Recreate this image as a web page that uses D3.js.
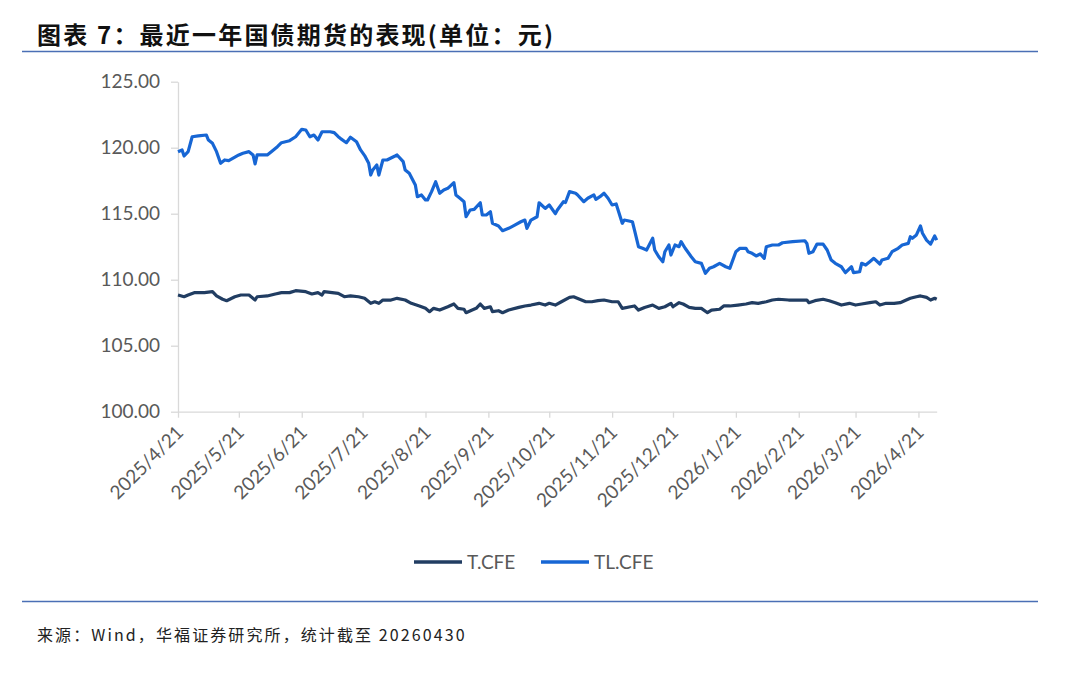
<!DOCTYPE html>
<html>
<head>
<meta charset="UTF-8">
<script src="https://d3js.org/d3.v7.min.js"></script>
<style>
  body { margin: 0; background: #fff; }
  svg { display: block; }
</style>
</head>
<body>
<svg></svg>
<script>
let width = 1080, height = 673;

const titleText = "图表 7：最近一年国债期货的表现(单位：元)";
const sourceText = "来源：Wind，华福证券研究所，统计截至 20260430";
const seriesNames = ["T.CFE", "TL.CFE"];
const yTicks = [100, 105, 110, 115, 120, 125];
const xTicks = ["2025-04-21", "2025-05-21", "2025-06-21", "2025-07-21", "2025-08-21", "2025-09-21",
  "2025-10-21", "2025-11-21", "2025-12-21", "2026-01-21", "2026-02-21", "2026-03-21", "2026-04-21"];

// TL.CFE
const tlDates = ["2025-04-21","2025-04-23","2025-04-24","2025-04-26","2025-04-28","2025-05-01","2025-05-05","2025-05-06",
  "2025-05-08","2025-05-10","2025-05-12","2025-05-14","2025-05-16","2025-05-21","2025-05-23","2025-05-26","2025-05-28",
  "2025-05-29","2025-05-30","2025-06-02","2025-06-04","2025-06-06","2025-06-09","2025-06-11","2025-06-15","2025-06-18",
  "2025-06-21","2025-06-23","2025-06-25","2025-06-27","2025-06-29","2025-07-01","2025-07-05","2025-07-07","2025-07-09",
  "2025-07-10","2025-07-13","2025-07-15","2025-07-18","2025-07-20","2025-07-22","2025-07-24","2025-07-25","2025-07-26",
  "2025-07-28","2025-07-29","2025-07-31","2025-08-02","2025-08-06","2025-08-07","2025-08-10","2025-08-11","2025-08-13",
  "2025-08-16","2025-08-17","2025-08-19","2025-08-21","2025-08-22","2025-08-24","2025-08-26","2025-08-28","2025-08-30",
  "2025-09-01","2025-09-04","2025-09-05","2025-09-07","2025-09-09","2025-09-10","2025-09-12","2025-09-14","2025-09-17",
  "2025-09-18","2025-09-20","2025-09-22","2025-09-23","2025-09-26","2025-09-28","2025-10-01","2025-10-04","2025-10-07",
  "2025-10-09","2025-10-10","2025-10-12","2025-10-15","2025-10-16","2025-10-19","2025-10-21","2025-10-24","2025-10-25",
  "2025-10-28","2025-10-29","2025-10-31","2025-11-03","2025-11-04","2025-11-07","2025-11-09","2025-11-12","2025-11-13",
  "2025-11-15","2025-11-17","2025-11-19","2025-11-21","2025-11-23","2025-11-26","2025-11-27","2025-12-01","2025-12-02",
  "2025-12-04","2025-12-06","2025-12-08","2025-12-11","2025-12-12","2025-12-14","2025-12-16","2025-12-17","2025-12-19",
  "2025-12-20","2025-12-22","2025-12-24","2025-12-25","2025-12-27","2025-12-30","2026-01-01","2026-01-04","2026-01-06",
  "2026-01-08","2026-01-10","2026-01-13","2026-01-16","2026-01-18","2026-01-21","2026-01-23","2026-01-26","2026-01-27",
  "2026-01-29","2026-01-31","2026-02-02","2026-02-04","2026-02-05","2026-02-08","2026-02-11","2026-02-13","2026-02-18",
  "2026-02-24","2026-02-25","2026-02-26","2026-02-28","2026-03-02","2026-03-05","2026-03-07","2026-03-09","2026-03-11",
  "2026-03-14","2026-03-16","2026-03-19","2026-03-20","2026-03-23","2026-03-24","2026-03-26","2026-03-28","2026-03-30",
  "2026-04-02","2026-04-03","2026-04-06","2026-04-08","2026-04-11","2026-04-13","2026-04-16","2026-04-17","2026-04-18",
  "2026-04-20","2026-04-22","2026-04-23","2026-04-25","2026-04-27","2026-04-29","2026-04-30"];
const tlValues = [119.70,119.83,119.37,119.70,120.83,120.89,120.96,120.58,
  120.33,119.70,118.82,119.07,119.02,119.45,119.58,119.70,119.45,
  118.77,119.45,119.45,119.45,119.70,120.08,120.38,120.53,120.83,
  121.39,121.34,120.83,120.96,120.58,121.21,121.21,121.14,120.83,
  120.71,120.38,120.79,120.45,119.83,119.40,118.82,117.93,118.31,
  118.69,117.93,119.07,119.07,119.37,119.45,118.94,118.31,118.06,
  117.17,116.29,116.42,116.04,116.04,116.67,117.42,116.55,116.80,
  116.92,117.35,116.42,116.17,115.91,114.77,115.28,115.33,115.83,
  114.90,114.90,115.15,114.27,114.07,113.71,113.89,114.14,114.39,
  114.52,113.89,114.52,114.77,115.83,115.40,115.66,115.00,115.28,
  115.91,115.85,116.67,116.55,116.42,115.91,116.17,116.42,116.09,
  116.29,116.55,116.17,115.66,115.74,114.27,114.52,114.39,113.77,
  112.50,112.38,112.25,113.14,112.25,111.74,111.36,112.12,112.63,
  111.87,112.63,112.50,112.88,112.38,111.74,111.36,111.24,110.48,
  110.86,110.98,111.24,110.98,110.86,112.12,112.38,112.38,112.12,
  112.00,111.80,111.95,111.62,112.50,112.63,112.63,112.80,112.88,
  112.95,112.75,112.00,112.12,112.70,112.70,112.25,111.49,111.24,
  110.98,110.53,110.98,110.53,110.60,111.24,111.11,111.36,111.62,
  111.19,111.49,111.62,112.12,112.38,112.63,112.75,113.26,113.14,
  113.39,114.07,113.52,113.00,112.70,113.31,113.00];

// T.CFE
const tDates = ["2025-04-21","2025-04-24","2025-04-26","2025-04-29","2025-05-04","2025-05-08","2025-05-10","2025-05-13",
  "2025-05-15","2025-05-19","2025-05-22","2025-05-26","2025-05-29","2025-05-30","2025-06-04","2025-06-08","2025-06-11",
  "2025-06-15","2025-06-18","2025-06-23","2025-06-26","2025-06-29","2025-07-01","2025-07-02","2025-07-06","2025-07-09",
  "2025-07-12","2025-07-15","2025-07-19","2025-07-22","2025-07-25","2025-07-27","2025-07-29","2025-07-31","2025-08-04",
  "2025-08-07","2025-08-11","2025-08-14","2025-08-18","2025-08-21","2025-08-23","2025-08-25","2025-08-28","2025-09-01",
  "2025-09-04","2025-09-06","2025-09-09","2025-09-10","2025-09-13","2025-09-15","2025-09-17","2025-09-19","2025-09-22",
  "2025-09-23","2025-09-26","2025-09-28","2025-10-01","2025-10-06","2025-10-09","2025-10-12","2025-10-16","2025-10-19",
  "2025-10-21","2025-10-24","2025-10-27","2025-10-31","2025-11-02","2025-11-05","2025-11-08","2025-11-11","2025-11-14",
  "2025-11-17","2025-11-21","2025-11-24","2025-11-26","2025-11-30","2025-12-02","2025-12-04","2025-12-07","2025-12-11",
  "2025-12-14","2025-12-17","2025-12-20","2025-12-21","2025-12-24","2025-12-26","2025-12-29","2026-01-01","2026-01-04",
  "2026-01-07","2026-01-09","2026-01-13","2026-01-15","2026-01-18","2026-01-22","2026-01-26","2026-01-29","2026-02-01",
  "2026-02-05","2026-02-08","2026-02-11","2026-02-16","2026-02-21","2026-02-25","2026-02-26","2026-03-01","2026-03-05",
  "2026-03-08","2026-03-11","2026-03-14","2026-03-18","2026-03-21","2026-03-24","2026-03-28","2026-03-31","2026-04-02",
  "2026-04-05","2026-04-09","2026-04-12","2026-04-15","2026-04-17","2026-04-20","2026-04-22","2026-04-25","2026-04-27",
  "2026-04-29","2026-04-30"];
const tValues = [108.84,108.71,108.84,109.02,109.02,109.09,108.77,108.52,
  108.41,108.71,108.84,108.84,108.46,108.71,108.77,108.92,109.02,
  109.02,109.17,109.09,108.92,109.02,108.84,109.09,109.02,108.97,
  108.71,108.77,108.71,108.59,108.21,108.33,108.21,108.46,108.46,
  108.59,108.46,108.21,108.01,107.83,107.58,107.83,107.70,107.95,
  108.16,107.83,107.76,107.50,107.70,107.83,108.16,107.83,107.95,
  107.58,107.65,107.50,107.70,107.90,108.01,108.08,108.21,108.08,
  108.21,108.08,108.33,108.66,108.71,108.52,108.33,108.33,108.41,
  108.46,108.33,108.33,107.83,107.95,108.01,107.70,107.90,108.08,
  107.83,107.95,108.21,107.95,108.26,108.16,107.90,107.83,107.83,
  107.50,107.70,107.76,108.01,108.01,108.08,108.16,108.26,108.21,
  108.33,108.46,108.52,108.46,108.46,108.46,108.26,108.41,108.52,
  108.41,108.26,108.08,108.21,108.08,108.16,108.26,108.33,108.08,
  108.21,108.21,108.26,108.46,108.59,108.71,108.77,108.66,108.46,
  108.59,108.52];

const parse = d3.timeParse("%Y-%m-%d");
const fmt = d3.timeFormat("%Y/%-m/%-d");
const colors = ["#213d62", "#1766d4"];
const axisFont = "Lato, 'Open Sans', sans-serif";

let svg = d3.select("svg").attr("width", width).attr("height", height);

// title + rules
svg.append("text")
  .attr("x", 37).attr("y", 44)
  .attr("font-family", "'Noto Sans CJK SC', sans-serif")
  .attr("font-weight", "bold")
  .attr("font-size", 24)
  .attr("letter-spacing", 2.2)
  .attr("fill", "#111")
  .text(titleText);

svg.append("line").attr("x1", 22).attr("x2", 1038).attr("y1", 51.5).attr("y2", 51.5)
  .attr("stroke", "#4a6fb5").attr("stroke-width", 1.5);
svg.append("line").attr("x1", 22).attr("x2", 1038).attr("y1", 601.5).attr("y2", 601.5)
  .attr("stroke", "#4a6fb5").attr("stroke-width", 1.5);

svg.append("text")
  .attr("x", 37).attr("y", 641)
  .attr("font-family", "'Noto Sans CJK SC', sans-serif")
  .attr("font-size", 16)
  .attr("letter-spacing", 2.1)
  .attr("fill", "#222")
  .text(sourceText);

// scales
let x = d3.scaleTime()
  .domain([parse("2025-04-21"), parse("2026-04-30")])
  .range([178, 936.7]);
let y = d3.scaleLinear().domain([100, 125]).range([411.7, 81.7]);

// axes
let yAxis = svg.append("g")
  .attr("transform", "translate(178,0)")
  .call(d3.axisLeft(y).tickValues(yTicks).tickFormat(d3.format(".2f")).tickSize(7).tickSizeOuter(0).tickPadding(11));
yAxis.select(".domain").attr("stroke", "#d9d9d9").attr("stroke-width", 1.3);
yAxis.selectAll(".tick line").attr("stroke", "#d9d9d9").attr("stroke-width", 1.3);
yAxis.selectAll(".tick text").attr("font-family", axisFont).attr("font-size", 19).attr("fill", "#595959");

let xAxis = svg.append("g")
  .attr("transform", "translate(0,411.7)")
  .call(d3.axisBottom(x).tickValues(xTicks.map(parse)).tickFormat(fmt).tickSize(6).tickSizeOuter(0));
xAxis.select(".domain").attr("stroke", "#d9d9d9").attr("stroke-width", 1.3);
xAxis.selectAll(".tick line").attr("stroke", "#d9d9d9").attr("stroke-width", 1.3);
xAxis.selectAll(".tick text")
  .attr("font-family", axisFont).attr("font-size", 19).attr("fill", "#595959")
  .attr("text-anchor", "end")
  .attr("dy", null)
  .attr("y", 0)
  .attr("transform", "translate(6,22) rotate(-45)");

// lines
let line = d3.line()
  .x(d => x(d[0]))
  .y(d => y(d[1]));

const series = [
  d3.zip(tDates.map(parse), tValues),
  d3.zip(tlDates.map(parse), tlValues)
];

svg.append("g")
  .selectAll("path")
  .data(series)
  .enter()
  .append("path")
  .attr("d", line)
  .attr("fill", "none")
  .attr("stroke", (d, i) => colors[i])
  .attr("stroke-width", 3.2)
  .attr("stroke-linejoin", "round");

// legend
let legend = svg.append("g").attr("transform", "translate(414,562)");
seriesNames.forEach((name, i) => {
  let g = legend.append("g").attr("transform", "translate(" + (i * 127) + ",0)");
  g.append("line").attr("x1", 0).attr("x2", 48).attr("y1", 0).attr("y2", 0)
    .attr("stroke", colors[i]).attr("stroke-width", 3.5);
  g.append("text").attr("x", 53).attr("y", 7)
    .attr("font-family", axisFont).attr("font-size", 19).attr("fill", "#595959")
    .text(name);
});
</script>
</body>
</html>
